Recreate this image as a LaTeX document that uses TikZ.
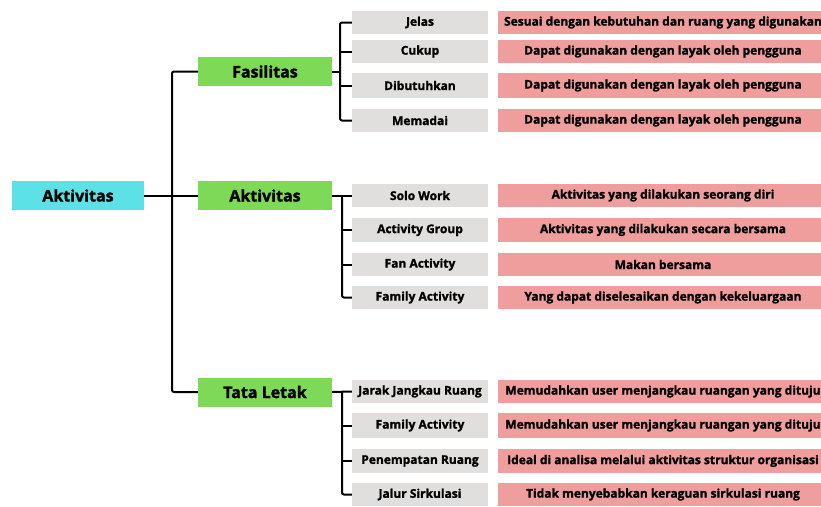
\documentclass[tikz,border=0pt]{standalone}
\usepackage{fontspec}
\setmainfont{Open Sans}[BoldFeatures={FakeBold=1.5}]
\definecolor{rootc}{HTML}{5CE1E6}
\definecolor{greenc}{HTML}{7ED957}
\definecolor{greyc}{HTML}{E0DFDE}
\definecolor{pinkc}{HTML}{F09D9D}
\tikzset{
  rootbox/.style={fill=rootc, minimum width=132pt, minimum height=29pt, inner sep=0pt, font=\fontsize{16}{16}\selectfont\bfseries},
  catbox/.style={fill=greenc, minimum width=134pt, minimum height=29pt, inner sep=0pt, font=\fontsize{16}{16}\selectfont\bfseries},
  itembox/.style={fill=greyc, minimum width=136pt, minimum height=23pt, inner sep=0pt, font=\fontsize{12}{12}\selectfont\bfseries},
  descbox/.style={fill=pinkc, minimum width=330pt, minimum height=23pt, inner sep=0pt, font=\fontsize{12}{12}\selectfont\bfseries},
  conn/.style={draw=black, line width=2pt, rounded corners=2pt},
}
\begin{document}
\begin{tikzpicture}[x=1pt,y=-1pt]
\useasboundingbox (0,0) rectangle (821,506);
\clip (0,0) rectangle (821,506);
\fill[white] (0,0) rectangle (821,506);
% root and categories
\node[rootbox] (root) at (78,195.5) {Aktivitas};
\node[catbox] (fas) at (265,71.5) {Fasilitas};
\node[catbox] (akt) at (265,195.5) {Aktivitas};
\node[catbox] (tat) at (265,392) {Tata Letak};
% Fasilitas items
\node[itembox] (f1) at (420,22.5) {Jelas};
\node[itembox] (f2) at (420,51.5) {Cukup};
\node[itembox, minimum height=25pt] (f3) at (420,85.5) {Dibutuhkan};
\node[itembox] (f4) at (420,120.5) {Memadai};
\node[descbox] (d1) at (663,22.5) {Sesuai dengan kebutuhan dan ruang yang digunakan};
\node[descbox] (d2) at (663,51.5) {Dapat digunakan dengan layak oleh pengguna};
\node[descbox, minimum height=25pt] (d3) at (663,85.5) {Dapat digunakan dengan layak oleh pengguna};
\node[descbox] (d4) at (663,120.5) {Dapat digunakan dengan layak oleh pengguna};
% Aktivitas items
\node[itembox] (a1) at (420,195.5) {Solo Work};
\node[itembox, minimum height=24pt] (a2) at (420,230) {Activity Group};
\node[itembox] (a3) at (420,264.5) {Fan Activity};
\node[itembox] (a4) at (420,297.5) {Family Activity};
\node[descbox] (e1) at (663,195.5) {Aktivitas yang dilakukan seorang diri};
\node[descbox, minimum height=24pt] (e2) at (663,230) {Aktivitas yang dilakukan secara bersama};
\node[descbox] (e3) at (663,264.5) {Makan bersama};
\node[descbox] (e4) at (663,297.5) {Yang dapat diselesaikan dengan kekeluargaan};
% Tata Letak items
\node[itembox] (t1) at (420,391.5) {Jarak Jangkau Ruang};
\node[itembox, minimum height=25pt] (t2) at (420,425.5) {Family Activity};
\node[itembox, minimum height=24pt] (t3) at (420,461) {Penempatan Ruang};
\node[itembox] (t4) at (420,494.5) {Jalur Sirkulasi};
\node[descbox] (u1) at (663,391.5) {Memudahkan user menjangkau ruangan yang dituju};
\node[descbox, minimum height=25pt] (u2) at (663,425.5) {Memudahkan user menjangkau ruangan yang dituju};
\node[descbox, minimum height=24pt] (u3) at (663,461) {Ideal di analisa melalui aktivitas struktur organisasi};
\node[descbox] (u4) at (663,494.5) {Tidak menyebabkan keraguan sirkulasi ruang};
% bracket x positions
\coordinate (mx) at (172,0);
\coordinate (fx) at (340,0);
\coordinate (ax) at (342,0);
% main connectors
\draw[conn] (root.east) -- (akt.west);
\draw[conn] (fas.west) -- (fas.west -| mx) -- (tat.west -| mx) -- (tat.west);
% Fasilitas bracket
\draw[conn] (fas.east) -- (fas.east -| fx);
\draw[conn] (f1.west) -- (f1.west -| fx) -- (f4.west -| fx) -- (f4.west);
\draw[conn] (f2.west) -- (f2.west -| fx);
\draw[conn] (f3.west) -- (f3.west -| fx);
% Aktivitas bracket
\draw[conn] (akt.east) -- (a1.west);
\draw[conn] (akt.east -| ax) -- (a4.west -| ax) -- (a4.west);
\draw[conn] (a2.west) -- (a2.west -| ax);
\draw[conn] (a3.west) -- (a3.west -| ax);
% Tata Letak bracket
\draw[conn] (tat.east) -- (t1.west);
\draw[conn] (tat.east -| ax) -- (t4.west -| ax) -- (t4.west);
\draw[conn] (t2.west) -- (t2.west -| ax);
\draw[conn] (t3.west) -- (t3.west -| ax);
\end{tikzpicture}
\end{document}
